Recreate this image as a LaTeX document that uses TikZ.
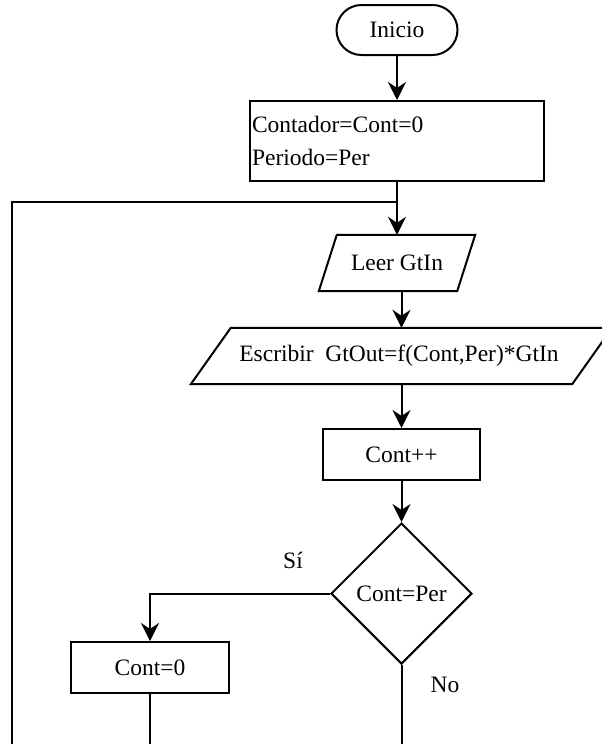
\documentclass[tikz,border=0pt]{standalone}
\usepackage{fontspec}
\setmainfont{Liberation Serif}
\usetikzlibrary{arrows.meta,shapes.geometric}
\begin{document}
\begin{tikzpicture}[x=1pt,y=-1pt,
  every node/.style={font=\fontsize{23.5}{33}\selectfont, inner sep=0pt},
  line/.style={line width=2pt, line join=miter},
  arr/.style={line, -{Stealth[length=18pt,width=18pt,inset=6pt]}},
  box/.style={draw, line width=2pt, rectangle},
  iotext/.style={rectangle, minimum height=56pt},
  term/.style={draw, line width=2pt, rounded corners=25pt, minimum width=121pt, minimum height=50pt},
  decision/.style={draw, line width=2pt, diamond, aspect=1, minimum width=141pt, minimum height=141pt}
]
\useasboundingbox (0,0) rectangle (602,744);
\fill[white] (0,0) rectangle (602,744);
\clip (0,0) rectangle (602,744);

\node[term] (inicio) at (397,30) {Inicio};
\node[box, minimum width=294pt, minimum height=80pt, text width=290pt, align=left] (init) at (397,141) {Contador=Cont=0\\Periodo=Per};

\node[iotext, minimum width=138pt] (leer) at (397,263) {Leer GtIn};
\draw[line] ([xshift=9pt]leer.north west) -- ([xshift=9pt]leer.north east) -- ([xshift=-9pt]leer.south east) -- ([xshift=-9pt]leer.south west) -- cycle;

\node[iotext, minimum width=381pt] (escr) at (401.5,356) {\hspace*{-5pt}Escribir\ \ GtOut=f(Cont,Per)*GtIn};
\draw[line] ([xshift=20pt]escr.north west) -- ([xshift=20pt]escr.north east) -- ([xshift=-20pt]escr.south east) -- ([xshift=-20pt]escr.south west) -- cycle;

\node[box, minimum width=157pt, minimum height=51pt] (inc) at (401.5,454.5) {Cont++};
\node[decision] (dec) at (401.5,593.5) {Cont=Per};
\node[box, minimum width=158pt, minimum height=51pt] (reset) at (150,667.5) {Cont=0};
\node (si) at (293,560) {Sí};
\node (no) at (445,685) {No};

\coordinate (join) at (397,202);
\coordinate (loopTop) at (12,202);
\coordinate (loopBot) at (12,750);
\coordinate (resetEnd) at (150,750);
\coordinate (noEnd) at (401.5,750);
\coordinate (siCorner) at (150,593.5);

\draw[arr] (inicio) -- (init);
\draw[line] (init) -- (join);
\draw[arr] (join) -- (leer.north);
\draw[line] (loopBot) -- (loopTop) -- (join);
\draw[arr] (leer.south -| escr.north) -- (escr.north);
\draw[arr] (escr) -- (inc);
\draw[arr] (inc) -- (dec);
\draw[arr] (dec.west) -- (siCorner) -- (reset.north);
\draw[line] (reset) -- (resetEnd);
\draw[line] (dec.south) -- (noEnd);
\end{tikzpicture}
\end{document}
